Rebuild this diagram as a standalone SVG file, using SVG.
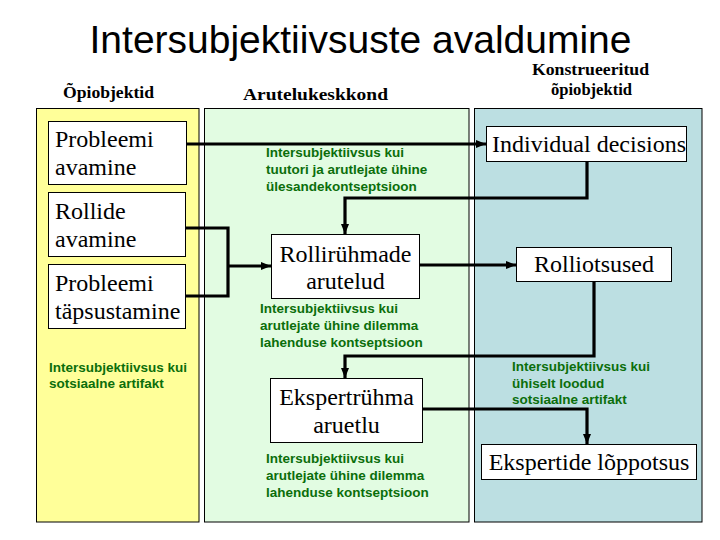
<svg xmlns="http://www.w3.org/2000/svg" width="720" height="540" viewBox="0 0 720 540">
<defs>
<style>
.title{font-family:"Liberation Sans",Arial,sans-serif;font-size:39px;fill:#000}
.hdr{font-family:"Liberation Serif","Times New Roman",serif;font-size:16px;font-weight:bold;fill:#000}
.box{fill:#fff;stroke:#000;stroke-width:1}
.lbl{font-family:"Liberation Serif","Times New Roman",serif;font-size:24px;fill:#000}
.note{font-family:"Liberation Sans",Arial,sans-serif;font-size:13.5px;font-weight:bold;fill:#0b6e0b}
.panel{stroke:#000;stroke-width:1}
.conn{fill:none;stroke:#000;stroke-width:3.2}
</style>
<marker id="arr" markerUnits="userSpaceOnUse" markerWidth="10" markerHeight="10" viewBox="0 0 10 10" refX="10" refY="5" orient="auto">
<path d="M0,1 L10,5 L0,9 Z" fill="#000"/>
</marker>
</defs>
<rect width="720" height="540" fill="#fff"/>
<text class="title" x="360.5" y="53" text-anchor="middle">Intersubjektiivsuste avaldumine</text>
<text class="hdr" x="108.5" y="98" text-anchor="middle" textLength="91" lengthAdjust="spacingAndGlyphs">Õpiobjektid</text>
<text class="hdr" x="315.5" y="100" text-anchor="middle" textLength="145" lengthAdjust="spacingAndGlyphs">Arutelukeskkond</text>
<text class="hdr" x="590.5" y="75" text-anchor="middle" textLength="117" lengthAdjust="spacingAndGlyphs">Konstrueeritud</text>
<text class="hdr" x="591.5" y="95" text-anchor="middle" textLength="81" lengthAdjust="spacingAndGlyphs">õpiobjektid</text>
<g id="panel-opiobjektid"><rect class="panel" x="36.5" y="108.5" width="162.5" height="413.5" fill="#ffff99"/></g>
<g id="panel-arutelukeskkond"><rect class="panel" x="204.5" y="108.5" width="264.5" height="413.5" fill="#e2fce2"/></g>
<g id="panel-konstrueeritud"><rect class="panel" x="474.5" y="108.5" width="227.5" height="413.5" fill="#bcdfe2"/></g>
<g id="note-left"><text class="note" x="49" y="372">Intersubjektiivsus kui</text><text class="note" x="49" y="388">sotsiaalne artifakt</text></g>
<g id="note-mid1"><text class="note" x="266" y="157">Intersubjektiivsus kui</text><text class="note" x="266" y="174">tuutori ja arutlejate ühine</text><text class="note" x="266" y="191">ülesandekontseptsioon</text></g>
<g id="note-mid2"><text class="note" x="260" y="313">Intersubjektiivsus kui</text><text class="note" x="260" y="330">arutlejate ühine dilemma</text><text class="note" x="260" y="347">lahenduse kontseptsioon</text></g>
<g id="note-mid3"><text class="note" x="266" y="463">Intersubjektiivsus kui</text><text class="note" x="266" y="480">arutlejate ühine dilemma</text><text class="note" x="266" y="497">lahenduse kontseptsioon</text></g>
<g id="note-right"><text class="note" x="512" y="371">Intersubjektiivsus kui</text><text class="note" x="512" y="388">ühiselt loodud</text><text class="note" x="512" y="404">sotsiaalne artifakt</text></g>
<g id="connectors">
<path class="conn" d="M187,144 H486" marker-end="url(#arr)"/>
<path class="conn" d="M186,228 H228 V296 H186"/>
<path class="conn" d="M228,266 H271" marker-end="url(#arr)"/>
<path class="conn" d="M587,162 V198 H345 V234" marker-end="url(#arr)"/>
<path class="conn" d="M420,265 H516" marker-end="url(#arr)"/>
<path class="conn" d="M594,282 V356 H345 V378" marker-end="url(#arr)"/>
<path class="conn" d="M423,409 H587 V444" marker-end="url(#arr)"/>
</g>
<g id="probleemi-avamine"><rect class="box" x="48.5" y="121.5" width="138" height="63"/><text class="lbl" x="55" y="147">Probleemi</text><text class="lbl" x="55" y="175">avamine</text></g>
<g id="rollide-avamine"><rect class="box" x="48.5" y="192.5" width="137" height="64"/><text class="lbl" x="55" y="219">Rollide</text><text class="lbl" x="55" y="247">avamine</text></g>
<g id="probleemi-tapsustamine"><rect class="box" x="48.5" y="264.5" width="137" height="64"/><text class="lbl" x="55" y="291">Probleemi</text><text class="lbl" x="55" y="319">täpsustamine</text></g>
<g id="rollirühmade-arutelud"><rect class="box" x="271.5" y="234.5" width="148" height="64"/><text class="lbl" x="345.5" y="262" text-anchor="middle">Rollirühmade</text><text class="lbl" x="345.5" y="289" text-anchor="middle">arutelud</text></g>
<g id="ekspertrühma-aruetlu"><rect class="box" x="270.5" y="378.5" width="152" height="64"/><text class="lbl" x="346.5" y="405" text-anchor="middle">Ekspertrühma</text><text class="lbl" x="346.5" y="433" text-anchor="middle">aruetlu</text></g>
<g id="individual-decisions"><rect class="box" x="486.5" y="126.5" width="200" height="35"/><text class="lbl" x="589" y="152" text-anchor="middle">Individual decisions</text></g>
<g id="rolliotsused"><rect class="box" x="516.5" y="247.5" width="155" height="34"/><text class="lbl" x="594" y="272" text-anchor="middle">Rolliotsused</text></g>
<g id="ekspertide-loppotsus"><rect class="box" x="481.5" y="444.5" width="215" height="35"/><text class="lbl" x="589" y="470" text-anchor="middle">Ekspertide lõppotsus</text></g>
</svg>
